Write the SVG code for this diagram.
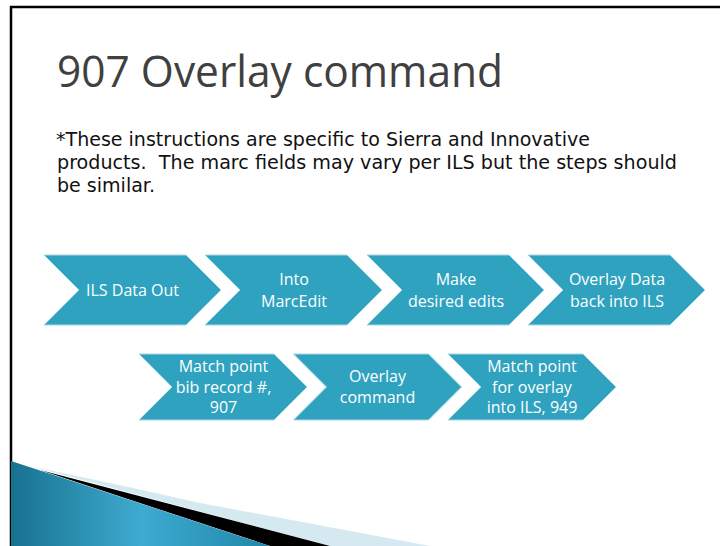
<svg xmlns="http://www.w3.org/2000/svg" width="720" height="546" viewBox="0 0 720 546">
<defs>
<style>
.chev{fill:#2ea2bf;stroke:#a6d8e6;stroke-width:1}
.lbl{font-family:"Open Sans","DejaVu Sans",sans-serif;font-size:16px;fill:#ffffff;text-anchor:middle}
.title{font-family:"Open Sans","DejaVu Sans",sans-serif;font-size:43px;fill:#404040}
.body{font-family:"DejaVu Sans","Open Sans",sans-serif;font-size:19px;fill:#111111;white-space:pre}
</style>
<linearGradient id="swoosh" x1="0" y1="0" x2="1" y2="0">
<stop offset="0" stop-color="#17728f"/>
<stop offset="0.5" stop-color="#3eaad0"/>
<stop offset="1" stop-color="#1f88aa"/>
</linearGradient>
</defs>
<rect x="0" y="0" width="720" height="546" fill="#ffffff"/>
<path d="M11,546 V7 H720" fill="none" stroke="#000000" stroke-width="2.5"/>

<g id="swoosh-shape">
<path d="M30,466 L133,488 L200,503 L430,546 L330,546 Z" fill="#d5e9f1"/>
<path d="M40,470 L330,546 L270,546 Z" fill="#000000"/>
<path d="M11,461 L270,546 L11,546 Z" fill="url(#swoosh)"/>
</g>

<text class="title" x="57" y="87" textLength="446" lengthAdjust="spacingAndGlyphs">907 Overlay command</text>
<text class="body" x="56" y="146" textLength="534" lengthAdjust="spacingAndGlyphs">*These instructions are specific to Sierra and Innovative</text>
<text class="body" x="57" y="169" textLength="620" lengthAdjust="spacingAndGlyphs">products.  The marc fields may vary per ILS but the steps should</text>
<text class="body" x="57" y="192" textLength="98" lengthAdjust="spacingAndGlyphs">be similar.</text>

<g id="n1">
<path class="chev" d="M44,255 H186 L221,290 L186,325 H44 L79,290 Z"/>
<text class="lbl" x="132.5" y="296">ILS Data Out</text>
</g>
<g id="n2">
<path class="chev" d="M205,255 H347 L382,290 L347,325 H205 L240,290 Z"/>
<text class="lbl" x="294" y="284.5">Into</text>
<text class="lbl" x="294" y="306.5">MarcEdit</text>
</g>
<g id="n3">
<path class="chev" d="M367,255 H509 L544,290 L509,325 H367 L402,290 Z"/>
<text class="lbl" x="456" y="284.5">Make</text>
<text class="lbl" x="456" y="306.5">desired edits</text>
</g>
<g id="n4">
<path class="chev" d="M528,255 H670 L705,290 L670,325 H528 L563,290 Z"/>
<text class="lbl" x="617" y="284.5">Overlay Data</text>
<text class="lbl" x="617" y="306.5">back into ILS</text>
</g>
<g id="n5">
<path class="chev" d="M139,354 H274 L307,387 L274,420 H139 L172,387 Z"/>
<text class="lbl" x="223.5" y="372">Match point</text>
<text class="lbl" x="223.5" y="392.5">bib record #,</text>
<text class="lbl" x="223.5" y="413">907</text>
</g>
<g id="n6">
<path class="chev" d="M293.5,354 H428.5 L461.5,387 L428.5,420 H293.5 L326.5,387 Z"/>
<text class="lbl" x="377.5" y="382">Overlay</text>
<text class="lbl" x="377.5" y="402.5">command</text>
</g>
<g id="n7">
<path class="chev" d="M448,354 H583 L616,387 L583,420 H448 L481,387 Z"/>
<text class="lbl" x="532" y="372">Match point</text>
<text class="lbl" x="532" y="392.5">for overlay</text>
<text class="lbl" x="532" y="413">into ILS, 949</text>
</g>
<g id="connectors"></g>
</svg>
